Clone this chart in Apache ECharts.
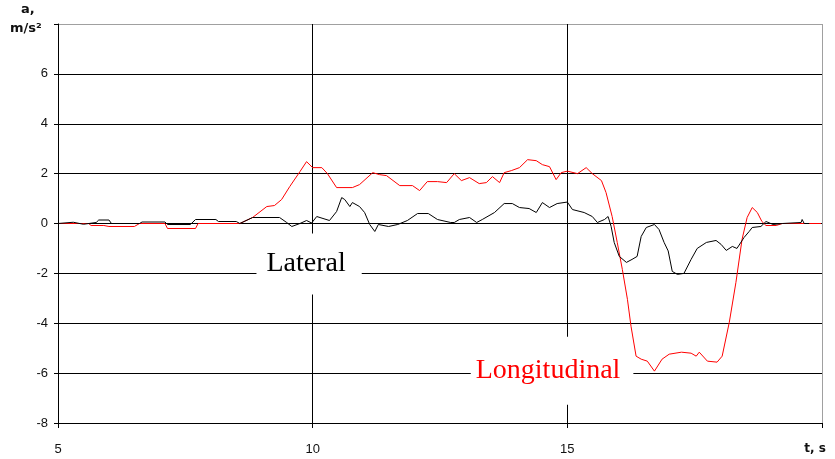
<!DOCTYPE html>
<html>
<head>
<meta charset="utf-8">
<script src="https://cdn.jsdelivr.net/npm/echarts@6/dist/echarts.min.js"></script>
<style>html,body{margin:0;padding:0;background:#fff}#c{width:835px;height:459px}</style>
</head>
<body>
<div id="c"></div>
<script>
// time (s) and longitudinal acceleration (m/s²)
const longT = [5.0,5.6,5.65,5.9,6.0,6.5,6.6,7.1,7.15,7.7,7.75,8.57,8.82,9.10,9.25,9.39,9.55,9.75,9.88,10.0,10.18,10.29,10.47,10.78,10.92,11.18,11.31,11.45,11.71,11.96,12.10,12.25,12.45,12.63,12.78,12.92,13.08,13.27,13.41,13.53,13.67,13.76,13.90,14.06,14.22,14.39,14.51,14.65,14.78,14.88,15.0,15.20,15.37,15.49,15.67,15.76,15.88,15.98,16.08,16.18,16.25,16.35,16.45,16.57,16.71,16.86,17.0,17.24,17.43,17.53,17.59,17.75,17.94,18.04,18.18,18.31,18.43,18.53,18.63,18.73,18.82,18.90,19.10,19.22,19.98];
const longA = [0,0,-0.08,-0.08,-0.12,-0.12,0,0,-0.2,-0.2,0,0,0.24,0.68,0.72,0.96,1.48,2.08,2.48,2.24,2.24,2.0,1.44,1.44,1.56,2.04,1.96,1.92,1.52,1.52,1.32,1.68,1.68,1.64,2.0,1.72,1.84,1.6,1.64,1.88,1.64,2.04,2.12,2.24,2.56,2.52,2.36,2.28,1.76,2.04,2.1,2.0,2.24,2.0,1.72,1.24,0.28,-0.76,-1.84,-3.04,-4.12,-5.32,-5.44,-5.52,-5.92,-5.44,-5.24,-5.16,-5.2,-5.32,-5.16,-5.52,-5.56,-5.32,-3.96,-2.36,-0.64,0.24,0.64,0.44,0.08,-0.08,-0.08,0,0];
// time (s) and lateral acceleration (m/s²)
const latT = [5.0,5.3,5.5,5.75,5.8,6.0,6.05,6.6,6.65,7.1,7.15,7.6,7.7,8.1,8.15,8.5,8.57,8.82,9.35,9.49,9.59,9.75,9.88,9.98,10.08,10.33,10.47,10.57,10.63,10.73,10.78,10.92,11.02,11.12,11.22,11.29,11.49,11.67,11.86,12.06,12.27,12.45,12.71,12.78,12.88,13.08,13.22,13.33,13.57,13.76,13.92,14.06,14.25,14.39,14.51,14.65,14.80,15.0,15.1,15.33,15.49,15.59,15.73,15.80,15.86,15.92,16.02,16.16,16.27,16.37,16.45,16.55,16.71,16.80,16.90,16.98,17.06,17.16,17.29,17.43,17.55,17.73,17.92,18.02,18.12,18.24,18.33,18.47,18.57,18.63,18.80,18.90,19.04,19.22,19.59,19.61,19.65,19.75];
const latA = [0,0.05,-0.03,0.04,0.14,0.14,0,0,0.06,0.06,-0.04,-0.04,0.16,0.16,0.08,0.08,0,0.24,0.24,0.04,-0.12,0,0.12,0.02,0.28,0.12,0.48,1.04,0.96,0.68,0.84,0.68,0.44,-0.04,-0.32,-0.04,-0.12,-0.04,0.12,0.4,0.4,0.16,0.04,0.04,0.16,0.24,0.04,0.16,0.44,0.8,0.8,0.64,0.6,0.44,0.84,0.64,0.8,0.86,0.56,0.44,0.28,0.04,0.16,0.28,-0.12,-0.76,-1.32,-1.56,-1.44,-1.32,-0.52,-0.16,-0.04,-0.24,-0.76,-1.1,-1.92,-2.04,-2.0,-1.44,-1.0,-0.76,-0.68,-0.84,-1.08,-0.92,-1.0,-0.56,-0.32,-0.16,-0.12,0.08,-0.04,0,0.04,0.16,0,0];
const xTicks = [5, 10, 15, 20];
const yTicks = [-8, -6, -4, -2, 0, 2, 4, 6, 8];
const seriesNames = ['Longitudinal', 'Lateral'];
const labelAnchors = { Lateral: [9.93, -1.62], Longitudinal: [14.7, -5.9] };

const zip = (a, b) => a.map((v, i) => [v, b[i]]);
const chart = echarts.init(document.getElementById('c'));
const lbl = { fontFamily: 'Liberation Sans', fontSize: 13, color: '#111' };
const nameStyle = { fontFamily: 'DejaVu Sans', fontWeight: 'bold', fontSize: 13, fill: '#111' };
chart.setOption({
  animation: false,
  grid: { left: 58, right: 13, top: 24, bottom: 36 },
  graphic: [
    { type: 'text', left: 21, top: 3, style: Object.assign({ text: 'a,' }, nameStyle) },
    { type: 'text', left: 10, top: 22, style: Object.assign({ text: 'm/s²' }, nameStyle) }
  ],
  xAxis: {
    type: 'value', min: xTicks[0], max: xTicks[xTicks.length - 1], interval: 5,
    axisLine: { onZero: false, lineStyle: { color: '#000', width: 1 } },
    axisTick: { show: true, length: 5, lineStyle: { color: '#000' } },
    axisLabel: Object.assign({ margin: 20, formatter: v => v === 20 ? '{b|t, s}' : String(v),
      rich: { b: { fontFamily: 'DejaVu Sans', fontWeight: 'bold', fontSize: 12, color: '#111', padding: [0, 0, 0, -14] } } }, lbl),
    splitLine: { show: true, lineStyle: { color: ['#000', '#000', '#000', '#a0a0a0'], width: 1 } }
  },
  yAxis: {
    type: 'value', min: yTicks[0], max: yTicks[yTicks.length - 1], interval: 2,
    axisLine: { show: true, lineStyle: { color: '#000', width: 1 } },
    axisTick: { show: true, length: 4, lineStyle: { color: '#000' } },
    axisLabel: Object.assign({ margin: 10, formatter: v => v === 8 ? '' : String(v) }, lbl),
    splitLine: { show: true, lineStyle: { color: ['#000', '#000', '#000', '#000', '#000', '#000', '#000', '#000', '#a0a0a0'], width: 1 } }
  },
  series: [
    {
      type: 'scatter', z: 1, silent: true, symbolSize: 0, itemStyle: { color: '#fff', opacity: 1 },
      data: [
        { value: labelAnchors.Lateral, label: { formatter: 'Lateral', color: '#000', padding: [12, 16, 21, 10] } },
        { value: labelAnchors.Longitudinal, label: { formatter: 'Longitudinal', color: '#ff0000', padding: [20, 13, 20, 5] } }
      ],
      label: { show: true, position: 'inside', fontFamily: 'Liberation Serif', fontSize: 28, backgroundColor: '#fff',
        textBorderWidth: 0, opacity: 1 }
    },
    { name: seriesNames[0], type: 'line', z: 2, data: zip(longT, longA), showSymbol: false, lineStyle: { color: '#ff0000', width: 1 } },
    { name: seriesNames[1], type: 'line', z: 3, data: zip(latT, latA), showSymbol: false, lineStyle: { color: '#000', width: 1 } }
  ]
});
</script>
</body>
</html>
